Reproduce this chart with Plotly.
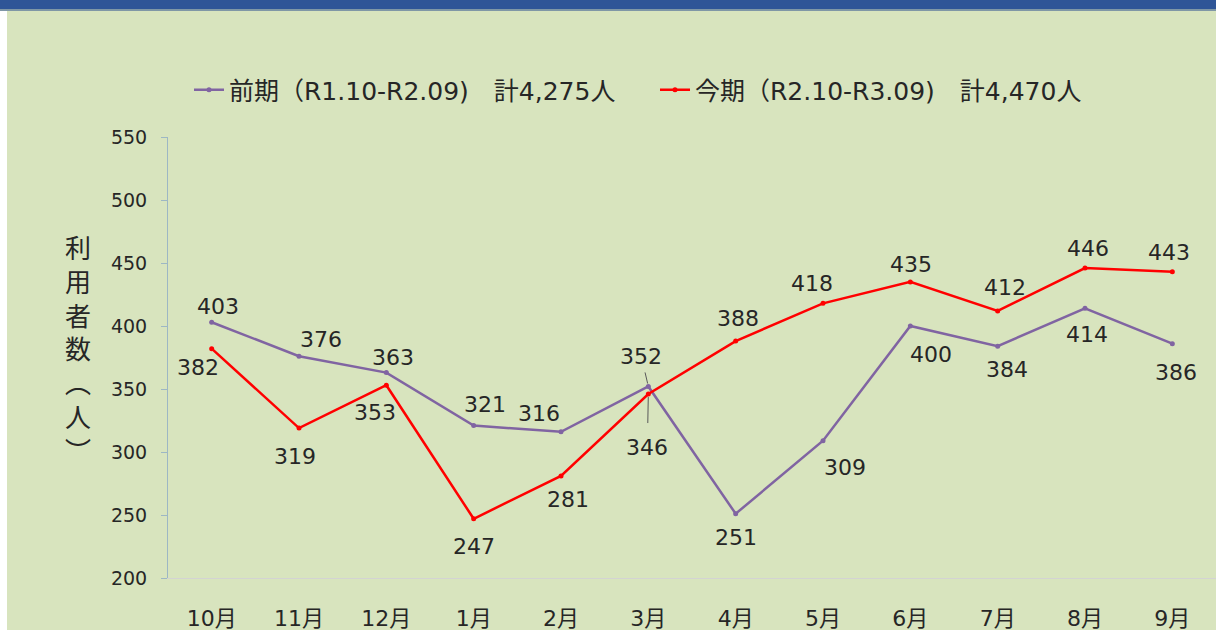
import plotly.graph_objects as go

months = ["10月", "11月", "12月", "1月", "2月", "3月", "4月", "5月", "6月", "7月", "8月", "9月"]
prev_vals = [403, 376, 363, 321, 316, 352, 251, 309, 400, 384, 414, 386]
curr_vals = [382, 319, 353, 247, 281, 346, 388, 418, 435, 412, 446, 443]
prev_name = "前期（R1.10-R2.09)　計4,275人"
curr_name = "今期（R2.10-R3.09)　計4,470人"
y_ticks = [200, 250, 300, 350, 400, 450, 500, 550]
y_title = "利用者数（人）"

# label offsets in pixels (dx, dy) relative to each point (dy positive = downward)
prev_off = [(6, -16), (22, -17), (7, -15), (11, -21), (-22, -18), (-7, -30),
            (0, 24), (22, 27), (21, 28), (9, 23), (2, 26), (4, 29)]
curr_off = [(-14, 19), (-4, 28), (-11, 27), (0, 28), (7, 24), (-1, 53),
            (2, -23), (-11, -20), (1, -17), (7, -23), (3, -20), (-3, -19)]
leader_prev = {5}
leader_curr = {5}

W, H = 1216, 630
ML, MR, MT, MB = 168, 0, 137, 52
PW, PH = W - ML - MR, H - MT - MB
BOTTOM = MT + PH  # pixel y of plot bottom

BG = "#D8E4BE"
PURPLE = "#8064A2"
RED = "#FF0000"
FONT = "DejaVu Sans, Noto Sans CJK JP, sans-serif"
TXT = "#262626"

fig = go.Figure()
fig.add_trace(go.Scatter(x=months, y=prev_vals, name=prev_name, mode="lines+markers",
                         line=dict(color=PURPLE, width=2.5), marker=dict(size=5, color=PURPLE)))
fig.add_trace(go.Scatter(x=months, y=curr_vals, name=curr_name, mode="lines+markers",
                         line=dict(color=RED, width=2.5), marker=dict(size=5, color=RED)))

ann = []
for vals, offs, leaders in ((prev_vals, prev_off, leader_prev), (curr_vals, curr_off, leader_curr)):
    for i, (m, v) in enumerate(zip(months, vals)):
        dx, dy = offs[i]
        if i in leaders:
            ann.append(dict(x=m, y=v, xref="x", yref="y", text=str(v), showarrow=True,
                            ax=dx, ay=dy, arrowhead=0, arrowwidth=1, arrowcolor="#595959",
                            standoff=3, startstandoff=2 if dy < 0 else 10,
                            font=dict(family=FONT, size=22, color=TXT)))
        else:
            ann.append(dict(x=m, y=v, xref="x", yref="y", text=str(v), showarrow=False,
                            xshift=dx, yshift=-dy,
                            font=dict(family=FONT, size=22, color=TXT)))

def px_x(p):
    return (p - ML) / PW

def px_y(p):
    return (BOTTOM - p) / PH

# vertical y-axis title
ann.append(dict(xref="paper", yref="paper", x=px_x(78), y=px_y(348),
                text="<br>".join(["利", "用", "者", "数", "︵", "人", "︶"]),
                showarrow=False, xanchor="center", yanchor="middle",
                font=dict(family="Noto Sans CJK JP", size=26, color=TXT)))

shapes = [
    dict(type="rect", xref="paper", yref="paper", x0=px_x(0), x1=px_x(7), y0=px_y(H + 20), y1=px_y(0),
         fillcolor="white", line=dict(width=0), layer="below"),
    dict(type="rect", xref="paper", yref="paper", x0=px_x(0), x1=px_x(W), y0=px_y(11), y1=px_y(0),
         fillcolor="#2F5597", line=dict(width=0), layer="below"),
    dict(type="rect", xref="paper", yref="paper", x0=px_x(0), x1=px_x(W), y0=px_y(11), y1=px_y(9),
         fillcolor="#7F97A6", line=dict(width=0), layer="below"),
]

fig.update_layout(
    width=W, height=H, autosize=False,
    margin=dict(l=ML, r=MR, t=MT, b=MB, pad=0, autoexpand=False),
    paper_bgcolor=BG, plot_bgcolor="rgba(0,0,0,0)",
    font=dict(family=FONT, color=TXT),
    showlegend=True,
    legend=dict(orientation="h", x=px_x(189), xanchor="left", y=px_y(90), yanchor="middle",
                font=dict(family=FONT, size=25, color=TXT), bgcolor="rgba(0,0,0,0)",
                entrywidth=421, entrywidthmode="pixels", itemwidth=30, tracegroupgap=0),
    xaxis=dict(type="category", range=[-0.5, 11.5], showgrid=False, zeroline=False,
               showline=True, linecolor="#D3D3D3", linewidth=1, ticks="", automargin=False,
               tickfont=dict(family=FONT, size=22, color=TXT), ticklabelstandoff=21),
    yaxis=dict(range=[200, 550], tickvals=y_ticks, showgrid=False, zeroline=False,
               showline=True, linecolor="#9DB7C4", linewidth=1, ticks="outside", automargin=False,
               ticklen=6, tickcolor="#9DB7C4",
               tickfont=dict(family=FONT, size=19, color=TXT), ticklabelstandoff=10),
    annotations=ann, shapes=shapes, hovermode=False,
)

fig.write_html("out.html",
               config={"displayModeBar": False, "responsive": False, "staticPlot": True},
               post_script="document.body.style.margin='0';document.body.style.background='" + BG + "';")
